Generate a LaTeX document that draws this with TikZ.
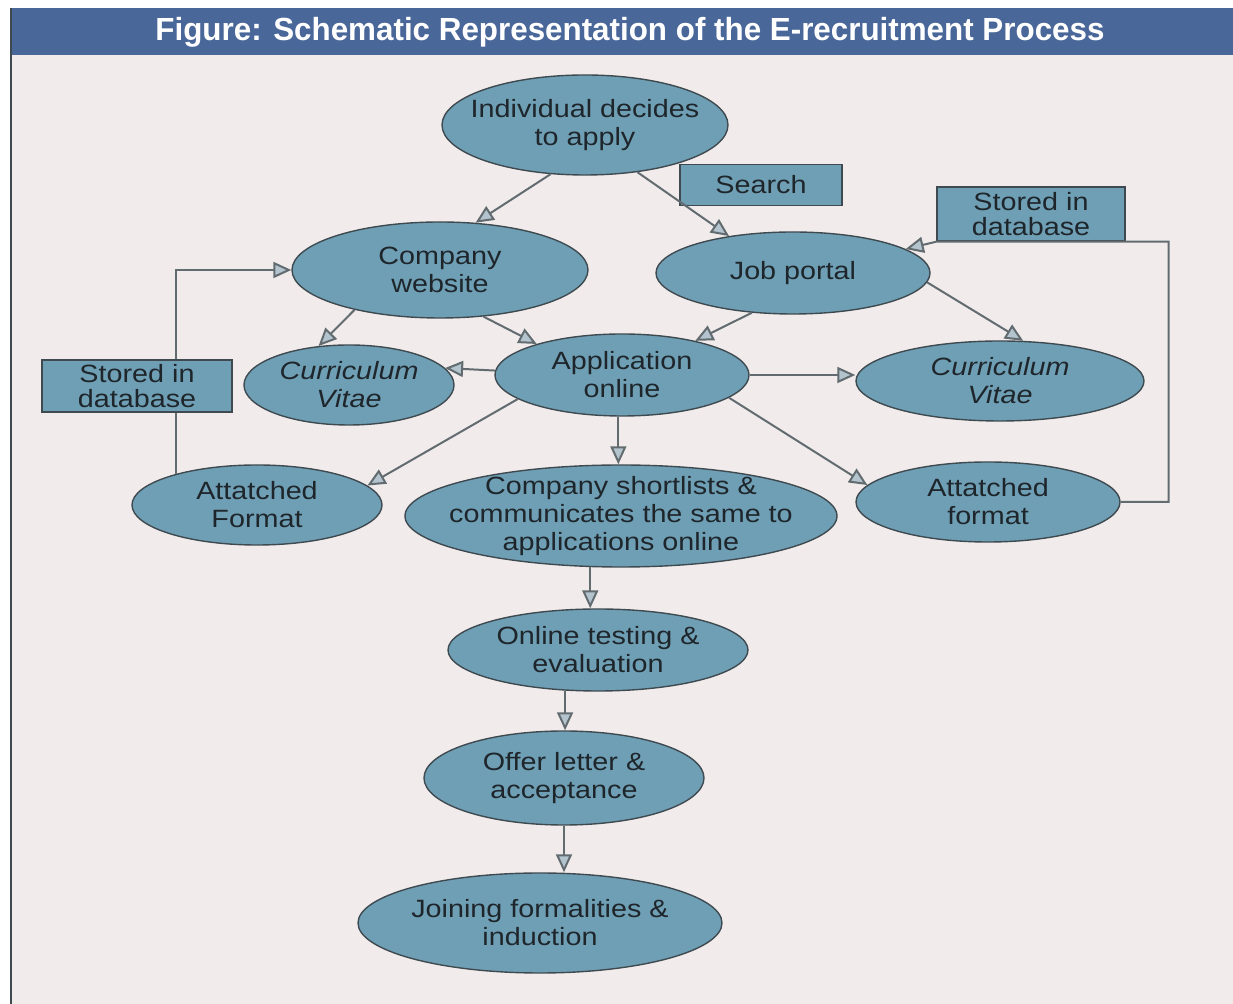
\documentclass[tikz,border=0pt]{standalone}
\usepackage{fontspec}
\setmainfont{Liberation Sans}[FakeStretch=1.15]
\newfontfamily\headfont{Liberation Sans}[FakeStretch=0.98]
\usetikzlibrary{shapes,arrows.meta,calc}
\definecolor{paper}{HTML}{F1ECEB}
\definecolor{headblue}{HTML}{4A6799}
\definecolor{blobfill}{HTML}{6F9FB5}
\definecolor{blobline}{HTML}{3F4A50}
\definecolor{linegrey}{HTML}{626B70}
\definecolor{tipfill}{HTML}{B4C4CE}
\definecolor{ink}{HTML}{1E262B}
\newcommand\flowfont{\fontsize{12.5}{14}\selectfont}

\begin{document}
\begin{tikzpicture}[x=0.5pt,y=-0.5pt,font=\flowfont,text=ink]
  \tikzstyle{blob}=[ellipse,draw=blobline,fill=blobfill,inner sep=0pt,line width=0.7pt]
  \tikzstyle{tag}=[rectangle,draw=blobline,fill=blobfill,inner sep=0pt,align=center,line width=0.7pt,font=\fontsize{12.5}{12.5}\selectfont]
  \tikzstyle{every label}=[align=center,text=ink]
  \tikzstyle{link}=[draw=linegrey,line width=1pt,-{Triangle[length=9pt,width=8pt,fill=tipfill]}]
  \useasboundingbox (0,0) rectangle (1233,1004);
  \fill[paper] (10,55) rectangle (1233,1004);
  \fill[headblue] (10,8) rectangle (1233,55);
  \draw[blobline,line width=0.8pt] (11,8) -- (11,1004);
  \node[text=white,font=\headfont\bfseries\fontsize{16}{16}\selectfont] (title) at (630,32)
    {Figure: Schematic Representation of the E-recruitment Process};

  \node[blob,minimum width=143pt,minimum height=50pt,label={center:Individual decides\\to apply}] (decide) at (585,125) {};
  \node[tag,minimum width=81pt,minimum height=20.5pt] (search) at (761,185) {Search};
  \node[tag,minimum width=94pt,minimum height=27pt] (dbright) at (1031,214) {Stored in\\database};
  \node[blob,minimum width=148pt,minimum height=48pt,label={center:Company\\website}] (website) at (440,270) {};
  \node[blob,minimum width=137pt,minimum height=41pt,label={center:Job portal}] (portal) at (793,273) {};
  \node[blob,minimum width=105pt,minimum height=40pt,label={[font=\flowfont\itshape]center:Curriculum\\Vitae}] (cvleft) at (349,385) {};
  \node[blob,minimum width=127pt,minimum height=41pt,label={center:Application\\online}] (apply) at (622,375) {};
  \node[blob,minimum width=144pt,minimum height=40pt,label={[font=\flowfont\itshape]center:Curriculum\\Vitae}] (cvright) at (1000,381) {};
  \node[blob,minimum width=125pt,minimum height=40pt,label={center:Attatched\\Format}] (attleft) at (257,505) {};
  \node[blob,minimum width=216pt,minimum height=51pt,label={center:Company shortlists \&\\communicates the same to\\applications online}] (shortlist) at (621,516) {};
  \node[blob,minimum width=132pt,minimum height=40pt,label={center:Attatched\\format}] (attright) at (988,502) {};
  \node[blob,minimum width=150pt,minimum height=41pt,label={center:Online testing \&\\evaluation}] (testing) at (598,650) {};
  \node[blob,minimum width=140pt,minimum height=47pt,label={center:Offer letter \&\\acceptance}] (offer) at (564,778) {};
  \node[blob,minimum width=182pt,minimum height=50pt,label={center:Joining formalities \&\\induction}] (joining) at (540,923) {};

  \draw[link] (decide.235) -- (website.53);
  \draw[link] (decide.318) -- (portal.150);
  \draw[link] (attright.east) -- ++(48,0) |- (dbright.south west) -- (portal.12);
  \draw[link] (attleft.159) |- (website.west);
  \draw[link] (website.205) -- (cvleft.128);
  \draw[link] (website.313) -- (apply.160);
  \draw[link] (portal.224) -- (apply.25);
  \draw[link] (portal.356) -- (cvright.60);
  \draw[link] (apply.178) -- (cvleft.10);
  \draw[link] (apply.east) -- (apply.east -| cvright.west);
  \draw[link] (apply.193) -- (attleft.10);
  \draw[link] (apply.265) -- (apply.265 |- shortlist.north);
  \draw[link] (apply.348) -- (attright.172);
  \draw[link] (shortlist.239) -- (shortlist.239 |- testing.north);
  \draw[link] (testing.231) -- (testing.231 |- offer.north);
  \draw[link] (offer.south) -- (offer.south |- joining.north);

  \node[tag,minimum width=95pt,minimum height=26pt] (dbleft) at (137,386) {Stored in\\database};
\end{tikzpicture}
\end{document}
